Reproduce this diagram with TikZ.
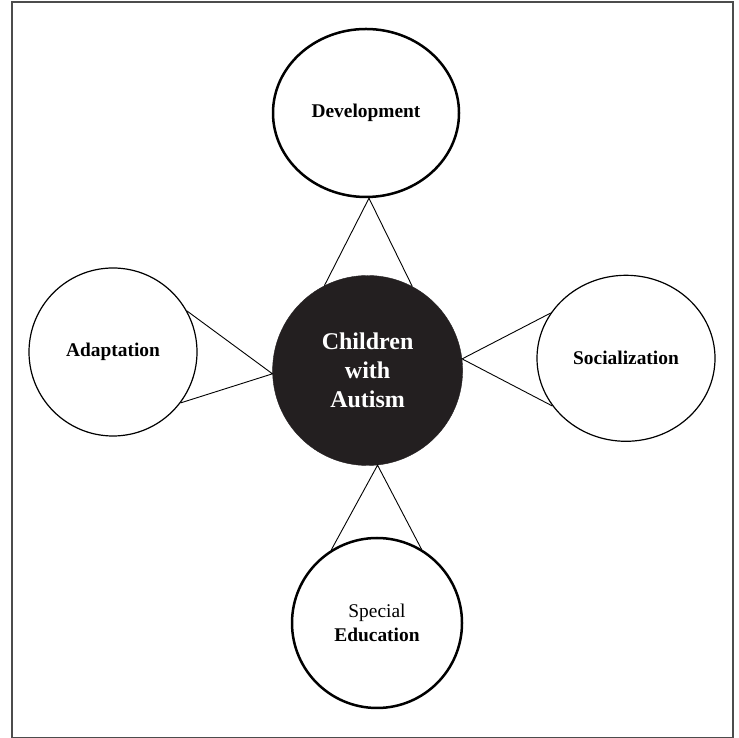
\documentclass[tikz,border=0pt]{standalone}
\usepackage{fontspec}
\setmainfont{Liberation Serif}
\usepackage{tikz}
\usetikzlibrary{shapes.geometric}
\definecolor{hubfill}{HTML}{231F20}

\begin{document}
\begin{tikzpicture}[x=1pt,y=1pt,
	topic/.style={draw,inner sep=0pt,align=center,font=\fontsize{19.4}{23.8}\selectfont\bfseries},
	heavy/.style={line width=2.5pt},
	light/.style={line width=1.2pt},
	link/.style={line width=0.9pt}]
\useasboundingbox (0,0) rectangle (738,738);
\draw [line width=1.3pt,black!70] (12,0.7) rectangle (733,736);
\node [circle,fill=hubfill,draw=hubfill,minimum size=190pt,inner sep=0pt,align=center,text=white,
	font=\fontsize{24}{29}\selectfont\bfseries] (hub) at (367.6,367.5) {Children\\with\\Autism};
\node [topic,heavy,ellipse,minimum width=186pt,minimum height=168pt] (dev) at (366,625) {Development};
\node [topic,light,circle,minimum size=168pt] (adapt) at (113,386) {Adaptation};
\node [topic,light,ellipse,minimum width=178pt,minimum height=166pt] (social) at (626,379.7) {Socialization};
\node [topic,heavy,circle,minimum size=170pt] (edu) at (377,115) {{\mdseries Special}\\Education};
\draw [link] (hub.117) -- (dev.272) -- (hub.62);
\draw [link] (adapt.29) -- (hub.182) -- (adapt.-37);
\draw [link] (social.149) -- (hub.7) -- (social.213);
\draw [link] (edu.122) -- (hub.276) -- (edu.59);
\end{tikzpicture}
\end{document}
